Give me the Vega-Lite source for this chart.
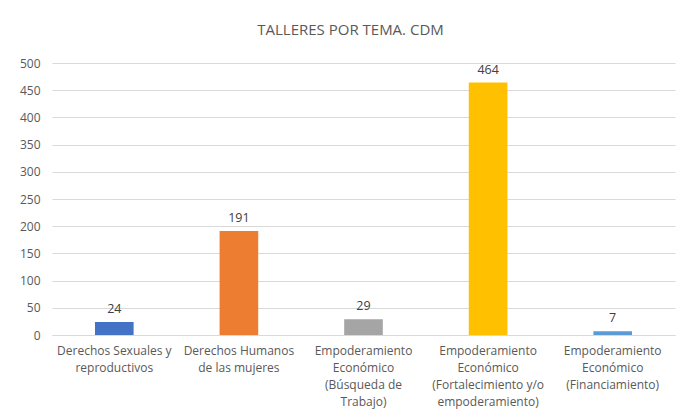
{
  "$schema": "https://vega.github.io/schema/vega-lite/v6.json",
  "autosize": "none",
  "width": 623,
  "height": 272,
  "padding": {"left": 52, "top": 63, "right": 5, "bottom": 80},
  "background": "white",
  "config": {
    "view": {"stroke": null},
    "font": "Open Sans"
  },
  "title": {
    "text": "TALLERES POR TEMA. CDM",
    "fontSize": 15,
    "fontWeight": "normal",
    "color": "#595959",
    "font": "Open Sans",
    "offset": 19,
    "dx": -13,
    "anchor": "middle"
  },
  "data": {
    "values": [
      {"tema": "Derechos Sexuales y|reproductivos", "talleres": 24, "color": "#4472C4"},
      {"tema": "Derechos Humanos|de las mujeres", "talleres": 191, "color": "#ED7D31"},
      {"tema": "Empoderamiento|Económico|(Búsqueda de|Trabajo)", "talleres": 29, "color": "#A5A5A5"},
      {"tema": "Empoderamiento|Económico|(Fortalecimiento y/o|empoderamiento)", "talleres": 464, "color": "#FFC000"},
      {"tema": "Empoderamiento|Económico|(Financiamiento)", "talleres": 7, "color": "#5B9BD5"}
    ]
  },
  "encoding": {
    "x": {
      "field": "tema",
      "type": "nominal",
      "sort": null,
      "title": null,
      "scale": {"paddingInner": 0.69, "paddingOuter": 0.345},
      "axis": {
        "labelAngle": 0,
        "labelExpr": "split(datum.label, '|')",
        "labelFontSize": 12,
        "labelLineHeight": 17,
        "labelColor": "#595959",
        "labelPadding": 10,
        "ticks": false,
        "domainColor": "#D9D9D9",
        "labelLimit": 200
      }
    },
    "y": {
      "field": "talleres",
      "type": "quantitative",
      "title": null,
      "scale": {"domain": [0, 500]},
      "axis": {
        "values": [0, 50, 100, 150, 200, 250, 300, 350, 400, 450, 500],
        "domain": false,
        "ticks": false,
        "labelPadding": 12,
        "labelFontSize": 12,
        "labelColor": "#595959",
        "gridColor": "#D9D9D9"
      }
    }
  },
  "layer": [
    {
      "mark": {"type": "bar"},
      "encoding": {
        "color": {"field": "color", "type": "nominal", "scale": null, "legend": null}
      }
    },
    {
      "mark": {"type": "text", "dy": -13, "fontSize": 12.5, "color": "#404040"},
      "encoding": {
        "text": {"field": "talleres", "type": "quantitative"}
      }
    }
  ]
}
